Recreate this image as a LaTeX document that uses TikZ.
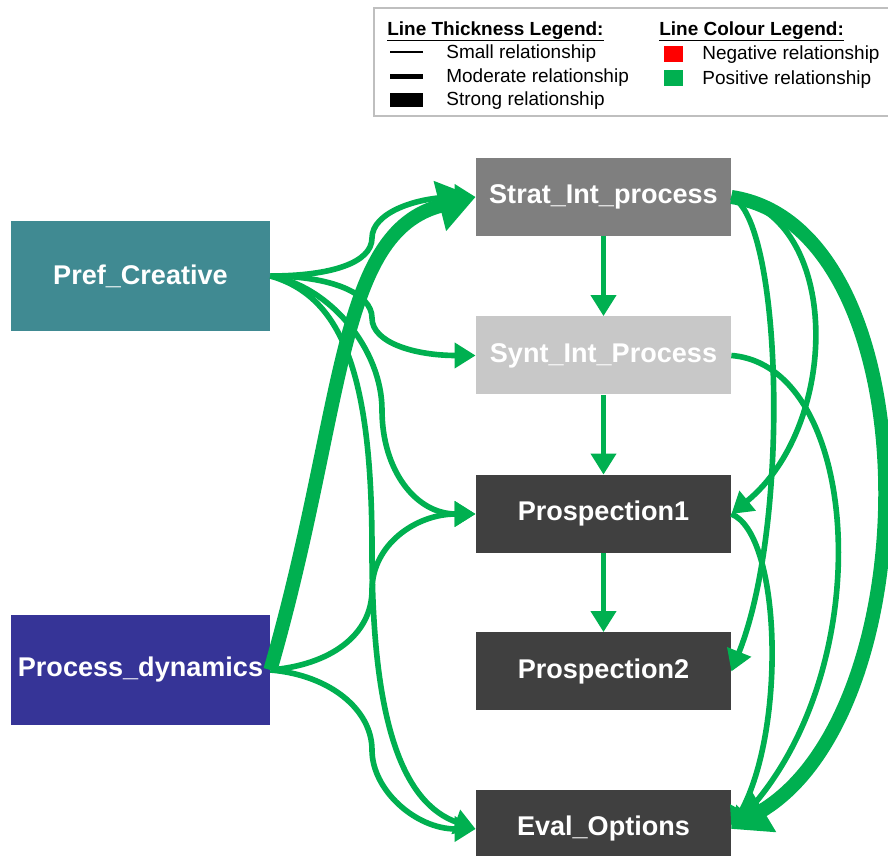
\documentclass[tikz,border=0pt]{standalone}
\usepackage{fontspec}
\setmainfont{Liberation Sans}
\usetikzlibrary{arrows.meta}
\definecolor{posgreen}{HTML}{00B050}
\definecolor{prefteal}{HTML}{408A92}
\definecolor{procblue}{HTML}{363497}
\definecolor{stratgray}{HTML}{7F7F7F}
\definecolor{syntgray}{HTML}{C8C8C8}
\definecolor{outdark}{HTML}{404040}
\definecolor{framegray}{HTML}{BFBFBF}
\tikzset{
	box/.style={rectangle, minimum width=51mm, minimum height=15.6mm, inner sep=0pt, text=white, font=\fontsize{15.4}{18}\selectfont\bfseries},
	srcbox/.style={box, minimum width=51.8mm, minimum height=22mm},
	modrel/.style={draw=posgreen, line width=3.2pt, -{Triangle[length=12pt,width=14pt]}},
	strongrel/.style={draw=posgreen, line width=8pt, -{Triangle[length=21pt,width=28pt]}},
	legtext/.style={anchor=base west, inner sep=0pt, font=\fontsize{10.8}{13}\selectfont},
	legtitle/.style={legtext, font=\fontsize{10.8}{13}\selectfont\bfseries}
}

\begin{document}
\begin{tikzpicture}[x=0.2mm, y=-0.2mm]
				\useasboundingbox (0,0) rectangle (888,856);
				
				% legend
				\draw[framegray, line width=1.2pt] (374,8) rectangle (900,116);
				\node[legtitle] (thtitle) at (387,36) {Line Thickness Legend:};
				\draw[line width=0.8pt] ([yshift=-2.4pt]thtitle.base west) -- ([yshift=-2.4pt]thtitle.base east);
				\draw[line width=0.8pt] (390,52) -- (423,52);
				\draw[line width=2.8pt] (390,76.5) -- (423,76.5);
				\draw[line width=8pt] (390,100) -- (423,100);
				\node[legtext] (small) at (446,59) {Small relationship};
				\node[legtext] (moderate) at (446,83) {Moderate relationship};
				\node[legtext] (strong) at (446,106) {Strong relationship};
				
				\node[legtitle] (coltitle) at (659,36) {Line Colour Legend:};
				\draw[line width=0.8pt] ([yshift=-2.4pt]coltitle.base west) -- ([yshift=-2.4pt]coltitle.base east);
				\fill[red] (664,46.5) rectangle (683,62.5);
				\fill[posgreen] (664,70.5) rectangle (683,86.5);
				\node[legtext] (negative) at (702,60) {Negative relationship};
				\node[legtext] (positive) at (702,85) {Positive relationship};
				
				% constructs
				\node[srcbox, fill=prefteal] (pc) at (140.5,276) {Pref\_Creative};
				\node[srcbox, fill=procblue] (pd) at (140.5,670) {Process\_dynamics};
				\node[box, fill=stratgray] (strat) at (603.5,197) {Strat\_Int\_process};
				\node[box, fill=syntgray] (synt) at (603.5,355.5) {Synt\_Int\_Process};
				\node[box, fill=outdark] (pros1) at (603.5,514) {Prospection1};
				\node[box, fill=outdark] (pros2) at (603.5,671.5) {Prospection2};
				\node[box, fill=outdark] (eval) at (603.5,829) {Eval\_Options};
				
				% left side paths
				\draw[modrel] (pc.east) .. controls +(60,0) and +(0,25) .. (372,238) .. controls +(0,-25) and +(-60,0) .. (strat.west);
				\draw[modrel] (pc.east) .. controls +(60,0) and +(0,-25) .. (372,318) .. controls +(0,25) and +(-60,0) .. (synt.west);
				\draw[modrel] (pc.east) .. controls +(60,10) and +(0,-60) .. (382,410) .. controls +(0,60) and +(-60,0) .. (pros1.west);
				\draw[modrel] (pc.east) .. controls +(70,20) and +(0,-180) .. (372,550) .. controls +(0,180) and +(-70,-25) .. (eval.west);
				\draw[strongrel] (pd.east) .. controls +(75,-260) and +(-140,35) .. (strat.west);
				\draw[modrel] (pd.east) .. controls +(60,-5) and +(0,45) .. (372,590) .. controls +(0,-45) and +(-60,0) .. (pros1.west);
				\draw[modrel] (pd.east) .. controls +(60,5) and +(0,-40) .. (372,750) .. controls +(0,40) and +(-60,0) .. (eval.west);
				
				% chain
				\draw[modrel] (strat.south) -- (synt.north);
				\draw[modrel] (synt.south) -- (pros1.north);
				\draw[modrel] (pros1.south) -- (pros2.north);
				
				% right side paths
				\draw[strongrel] (strat.east) .. controls +(200,30) and +(200,-120) .. (eval.east);
				\draw[modrel] (strat.east) .. controls +(110,20) and +(110,-90) .. (pros1.east);
				\draw[modrel] (strat.east) .. controls +(50,20) and +(60,-150) .. (pros2.east);
				\draw[modrel] (synt.east) .. controls +(130,10) and +(150,-160) .. (eval.east);
				\draw[modrel] (pros1.east) .. controls +(50,20) and +(55,-100) .. (eval.east);
			\end{tikzpicture}
\end{document}
